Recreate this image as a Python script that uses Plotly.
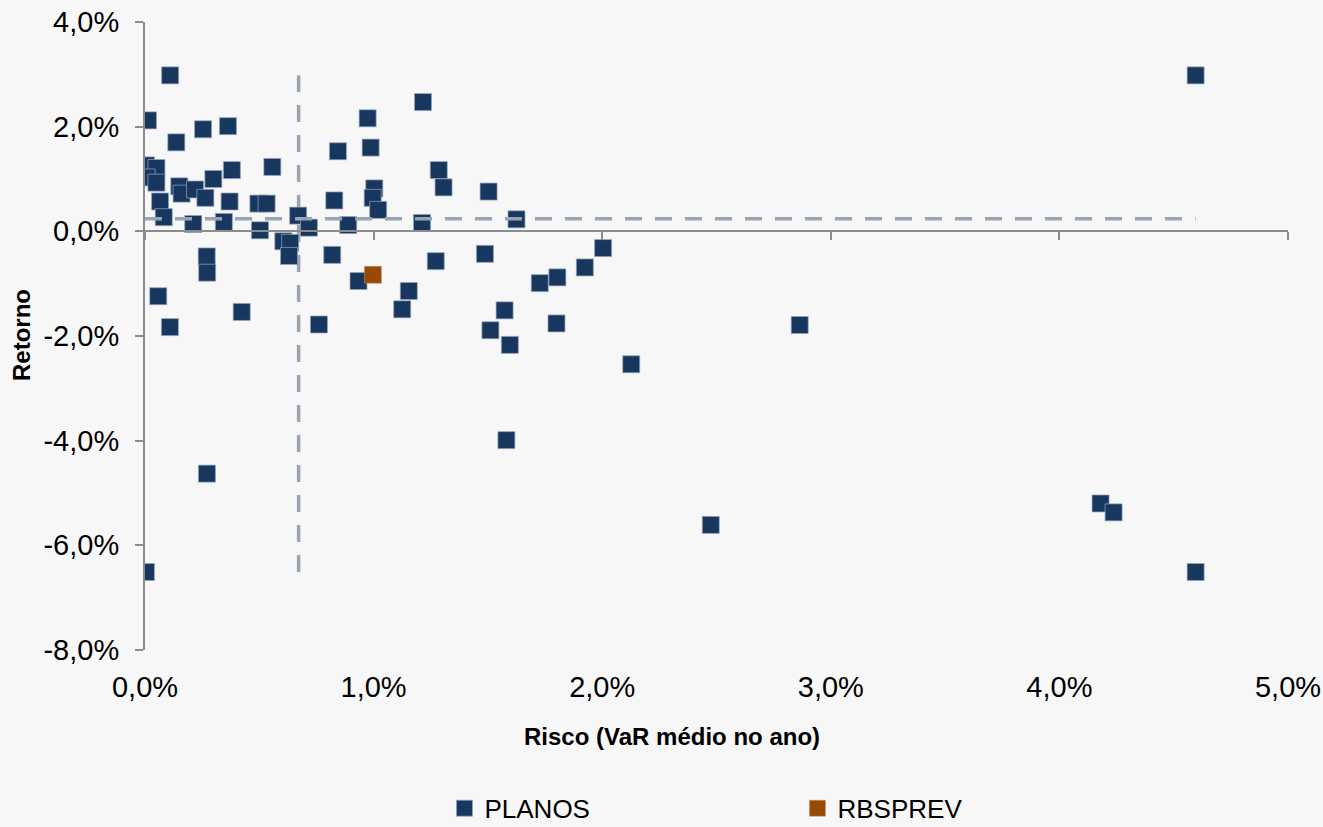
import plotly.graph_objects as go

# ---- data (percent units) ----
planos_risco = [0.11, 0.013, 0.137, 0.254, 0.363, 0.004, 0.05, 0.007, 0.05, 0.38,
                0.557, 0.299, 0.15, 0.16, 0.219, 0.264, 0.066, 0.37, 0.496, 0.532,
                0.082, 0.211, 0.345, 0.67, 0.717, 0.503, 0.605, 0.635, 0.63, 0.27,
                0.272, 0.058, 0.109, 0.423, 0.761, 0.271, 0.004, 0.819, 0.934, 1.216,
                0.974, 0.987, 0.844, 1.285, 1.306, 1.503, 1.003, 0.996, 1.02, 0.828,
                0.889, 1.212, 1.625, 1.272, 1.487, 1.154, 1.125, 1.727, 1.573, 1.511,
                1.596, 2.004, 1.924, 1.804, 1.80, 2.127, 1.581, 2.864, 2.475, 4.18,
                4.237, 4.596, 4.596]
planos_retorno = [2.98, 2.12, 1.70, 1.95, 2.01, 1.26, 1.21, 1.03, 0.93, 1.17,
                  1.23, 1.00, 0.86, 0.72, 0.80, 0.64, 0.57, 0.57, 0.53, 0.53,
                  0.27, 0.14, 0.18, 0.30, 0.07, 0.02, -0.19, -0.22, -0.47, -0.48,
                  -0.79, -1.24, -1.83, -1.54, -1.78, -4.63, -6.51, -0.45, -0.95, 2.47,
                  2.16, 1.60, 1.53, 1.17, 0.84, 0.76, 0.82, 0.64, 0.41, 0.59,
                  0.12, 0.16, 0.23, -0.57, -0.43, -1.14, -1.49, -0.99, -1.51, -1.89,
                  -2.17, -0.32, -0.69, -0.88, -1.76, -2.54, -3.99, -1.79, -5.61, -5.20,
                  -5.37, 2.98, -6.51]
rbsprev_risco = [0.997]
rbsprev_retorno = [-0.83]

media_risco = 0.672
media_retorno = 0.24

x_tickvals = [0, 1, 2, 3, 4, 5]
x_ticktext = ["0,0%", "1,0%", "2,0%", "3,0%", "4,0%", "5,0%"]
y_tickvals = [-8, -6, -4, -2, 0, 2, 4]
y_ticktext = ["-8,0%", "-6,0%", "-4,0%", "-2,0%", "0,0%", "2,0%", "4,0%"]

NAVY = "#17375E"
ORANGE = "#984807"
DASH = "#98A3B3"
AXIS = "#8C8C8C"
FONT = "Liberation Sans, Arial, sans-serif"

fig = go.Figure()

# average lines
fig.add_trace(go.Scatter(
    x=[0, max(planos_risco)], y=[media_retorno, media_retorno],
    mode="lines", line=dict(color=DASH, width=3.5, dash="17px,13px"),
    showlegend=False, hoverinfo="skip", xaxis="x2"))
fig.add_trace(go.Scatter(
    x=[media_risco, media_risco], y=[min(planos_retorno), max(planos_retorno)],
    mode="lines", line=dict(color=DASH, width=3.5, dash="17px,13px"),
    showlegend=False, hoverinfo="skip"))

fig.add_trace(go.Scatter(
    x=planos_risco, y=planos_retorno, mode="markers", name="PLANOS",
    marker=dict(symbol="square", size=17, color=NAVY,
                line=dict(color="rgba(150,165,190,0.9)", width=0.8))))
fig.add_trace(go.Scatter(
    x=rbsprev_risco, y=rbsprev_retorno, mode="markers", name="RBSPREV",
    marker=dict(symbol="square", size=17, color=ORANGE,
                line=dict(color="rgba(200,150,110,0.6)", width=0.8))))

fig.update_layout(
    width=1323, height=827,
    margin=dict(l=145, r=35, t=22, b=177, autoexpand=False),
    paper_bgcolor="#F7F7F8", plot_bgcolor="rgba(0,0,0,0)",
    font=dict(family=FONT, color="#000000"),
    xaxis=dict(range=[0, 5], tickvals=x_tickvals, ticktext=x_ticktext,
               showgrid=False, zeroline=False, showline=False, ticks="",
               tickfont=dict(size=29), ticklabelstandoff=17, automargin=False),
    xaxis2=dict(range=[0, 5], matches="x", overlaying="x", anchor="free",
                position=8 / 12, tickvals=x_tickvals, showticklabels=False,
                showgrid=False, zeroline=False, showline=True, linecolor=AXIS,
                linewidth=2, ticks="outside", ticklen=8, tickwidth=2,
                tickcolor=AXIS, automargin=False),
    yaxis=dict(range=[-8, 4], tickvals=y_tickvals, ticktext=y_ticktext,
               showgrid=False, zeroline=False, showline=True, linecolor=AXIS,
               linewidth=2, ticks="outside", ticklen=8, tickwidth=2,
               tickcolor=AXIS, tickfont=dict(size=29), ticklabelstandoff=10,
               automargin=False),
    legend=dict(orientation="h", x=0.262, xanchor="left", y=-0.252,
                yanchor="middle", font=dict(size=26), entrywidth=308,
                itemwidth=30, bgcolor="rgba(0,0,0,0)", itemclick=False,
                borderwidth=0, tracegroupgap=0),
    showlegend=True,
    annotations=[
        dict(text="<b>Risco (VaR médio no ano)</b>", x=0.461, y=-0.1385,
             xref="paper", yref="paper", showarrow=False,
             font=dict(size=24, family=FONT), xanchor="center", yanchor="middle"),
        dict(text="<b>Retorno</b>", x=-0.1076, y=0.5016, xref="paper",
             yref="paper", showarrow=False, textangle=-90,
             font=dict(size=24, family=FONT), xanchor="center", yanchor="middle"),
    ],
)

fig.write_html("out.html",
               config={"displayModeBar": False},
               post_script="document.body.style.margin='0';"
                           "document.body.style.overflow='hidden';")
